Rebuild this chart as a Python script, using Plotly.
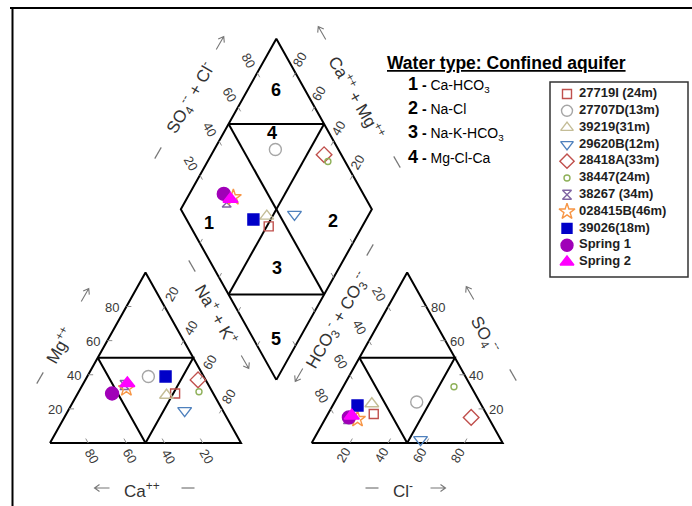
import math
import plotly.graph_objects as go

# ---------------- data (percent of meq) ----------------
samples = ["27719I (24m)", "27707D(13m)", "39219(31m)", "29620B(12m)", "28418A(33m)",
           "38447(24m)", "38267 (34m)", "028415B(46m)", "39026(18m)", "Spring 1", "Spring 2"]
ca   = [20, 29, 25, 20,  4,  7, 44, 44, 20, 53, 42]
mg   = [29, 39, 28, 19, 37, 30, 34, 32, 39, 29, 35]
nak  = [51, 32, 47, 61, 59, 63, 22, 24, 41, 18, 23]
hco3 = [59, 33, 57, 42,  9,  9, 74, 69, 65, 73, 71]
so4  = [17, 24, 23,  2, 15, 33, 14, 14, 22, 15, 16]
cl   = [24, 43, 20, 56, 76, 58, 12, 17, 13, 12, 13]

tick_values = [20, 40, 60, 80]
water_types = ["Ca-HCO<sub>3</sub>", "Na-Cl", "Na-K-HCO<sub>3</sub>", "Mg-Cl-Ca"]
axis_names = ["Mg<sup>++</sup>", "Ca<sup>++</sup>", "Na<sup>+</sup> + K<sup>+</sup>",
              "SO<sub>4</sub><sup>--</sup>", "Cl<sup>-</sup>",
              "HCO<sub>3</sub><sup>-</sup> + CO<sub>3</sub><sup>--</sup>",
              "SO<sub>4</sub><sup>--</sup> + Cl<sup>-</sup>", "Ca<sup>++</sup> + Mg<sup>++</sup>"]
region_labels = ["1", "2", "3", "4", "5", "6"]
# region label placement inside the diamond, as (Na+K %, SO4+Cl %)
region_pos = [(19, 11), (83, 76), (67.5, 33), (25, 70), (88, 12), (15, 85)]

# ---------------- styles ----------------
symbols = ["square-open", "circle-open", "triangle-up-open", "triangle-down-open", "diamond-open",
           "circle-open", "hourglass-open", "star-open", "square", "circle", "triangle-up"]
colors = ["#c0504d", "#a6a6a6", "#c4bd97", "#4f81bd", "#c0504d",
          "#8fb15a", "#8064a2", "#f79646", "#0000c8", "#a000b8", "#ff00ff"]
sizes = [9, 12, 12, 12, 12, 6, 9, 12, 11, 13, 13]
leg_sizes = [9, 11, 11, 11, 11, 6, 9, 12, 10, 12, 12]

FONT = "Liberation Sans, Arial, sans-serif"
W, H = 692, 506
GAP = 37.0
S60 = math.sqrt(3) / 2
KX, KY = 1.91, 1.97      # pixels per unit
OX, OY = 50.0, 443.0     # pixel of the Ca corner of the cation triangle


def cat_xy(a, m, n):
    t = a + m + n
    return 100 * (n + m / 2) / t, 100 * m / t * S60


def an_xy(h, s, c):
    t = h + s + c
    return 100 + GAP + 100 * (c + s / 2) / t, 100 * s / t * S60


def dia_xy(c, a):
    return 100 + GAP / 2 - 0.5 * (100 - c) + 0.5 * a, (GAP + (100 - c) + a) * S60


def pp(px, py):
    return px / W, 1 - py / H


fig = go.Figure()

# ---------------- outlines ----------------
ox, oy = [], []


def seg(pts):
    for p in pts:
        ox.append(p[0]); oy.append(p[1])
    ox.append(None); oy.append(None)


seg([cat_xy(100, 0, 0), cat_xy(0, 0, 100), cat_xy(0, 100, 0), cat_xy(100, 0, 0)])
seg([cat_xy(50, 50, 0), cat_xy(0, 50, 50), cat_xy(50, 0, 50), cat_xy(50, 50, 0)])
seg([an_xy(100, 0, 0), an_xy(0, 0, 100), an_xy(0, 100, 0), an_xy(100, 0, 0)])
seg([an_xy(50, 50, 0), an_xy(0, 50, 50), an_xy(50, 0, 50), an_xy(50, 50, 0)])
seg([dia_xy(100, 0), dia_xy(0, 0), dia_xy(0, 100), dia_xy(100, 100), dia_xy(100, 0)])
seg([dia_xy(0, 50), dia_xy(50, 100)])
seg([dia_xy(50, 0), dia_xy(100, 50)])
seg([dia_xy(0, 50), dia_xy(100, 50)])
seg([dia_xy(50, 0), dia_xy(50, 100)])

fig.add_trace(go.Scatter(x=ox, y=oy, mode="lines", line=dict(color="black", width=2),
                         hoverinfo="skip", showlegend=False))

# ---------------- ticks ----------------
edges = [
    (lambda v: cat_xy(100 - v, v, 0), (1, 0)),
    (lambda v: cat_xy(0, 100 - v, v), (-0.5, -S60)),
    (lambda v: cat_xy(v, 0, 100 - v), (-0.5, S60)),
    (lambda v: an_xy(100 - v, 0, v), (0.5, S60)),
    (lambda v: an_xy(v, 100 - v, 0), (0.5, -S60)),
    (lambda v: an_xy(0, v, 100 - v), (-1, 0)),
    (lambda v: dia_xy(0, v), (0.5, -S60)),
    (lambda v: dia_xy(100 - v, 100), (-0.5, -S60)),
    (lambda v: dia_xy(v, 0), (0.5, S60)),
    (lambda v: dia_xy(100, v), (-0.5, S60)),
]
tx, ty = [], []
for f, d in edges:
    for v in tick_values:
        x0, y0 = f(v)
        tx += [x0, x0 + 2.6 * d[0], None]
        ty += [y0, y0 + 2.6 * d[1], None]
fig.add_trace(go.Scatter(x=tx, y=ty, mode="lines", line=dict(color="#8c8c8c", width=1),
                         hoverinfo="skip", showlegend=False))

# ---------------- samples ----------------
for i, name in enumerate(samples):
    c1 = cat_xy(ca[i], mg[i], nak[i])
    a1 = an_xy(hco3[i], so4[i], cl[i])
    cpc = 100 * nak[i] / (ca[i] + mg[i] + nak[i])
    apc = 100 * (so4[i] + cl[i]) / (hco3[i] + so4[i] + cl[i])
    d1 = dia_xy(cpc, apc)
    fig.add_trace(go.Scatter(
        x=[c1[0], a1[0], d1[0]], y=[c1[1], a1[1], d1[1]], mode="markers", name=name,
        marker=dict(symbol=symbols[i], size=sizes[i], color=colors[i], opacity=1,
                    line=dict(color=colors[i], width=1.4)),
        showlegend=False))

# ---------------- tick labels ----------------
tick_groups = [
    (lambda v: cat_xy(100 - v, v, 0), (-14.5, 1), 0),
    (lambda v: cat_xy(0, 100 - v, v), (7, -12), -60),
    (lambda v: cat_xy(v, 0, 100 - v), (4, 13), 60),
    (lambda v: an_xy(100 - v, 0, v), (-7, 12), -60),
    (lambda v: an_xy(v, 100 - v, 0), (-9.5, -13), 60),
    (lambda v: an_xy(0, v, 100 - v), (12, 1), 0),
    (lambda v: dia_xy(0, v), (-9, -12), 60),
    (lambda v: dia_xy(100 - v, 100), (4.5, -13), -60),
]
annotations = []
for f, (dx, dy), ang in tick_groups:
    for v in tick_values:
        x0, y0 = f(v)
        annotations.append(dict(x=x0, y=y0, xref="x", yref="y", text=str(v), showarrow=False,
                                xanchor="center", yanchor="middle",
                                xshift=dx, yshift=-dy, textangle=ang,
                                font=dict(family=FONT, size=13, color="#3a3a3a")))

# ---------------- axis names ----------------
GRAY = "#777777"
axis_layout = [(59, 345, -60), (142, 490, 0), (217, 314, 60), (485, 334, 60),
               (403, 490, 0), (337, 320, -60), (190, 98, -60), (357, 97, 60)]
for t, (px, py, ang) in zip(axis_names, axis_layout):
    x, y = pp(px, py)
    annotations.append(dict(x=x, y=y, xref="paper", yref="paper", text=t, showarrow=False,
                            xanchor="center", yanchor="middle",
                            textangle=ang, font=dict(family=FONT, size=17, color="#333333")))

shapes = []


def ppath(points_list):
    parts = []
    for pts in points_list:
        for j, (px, py) in enumerate(pts):
            x, y = pp(px, py)
            parts.append(("M" if j == 0 else "L") + " %.5f %.5f" % (x, y))
    return " ".join(parts)


# direction arrows (center pixel, screen direction)
arrows = [
    (85, 295, (0.5, -S60)),
    (102, 488, (-1, 0)),
    (245, 362, (0.5, S60)),
    (470, 293, (-0.5, -S60)),
    (438, 488, (1, 0)),
    (299, 375, (-0.5, S60)),
    (220, 43, (0.5, -S60)),
    (322, 33, (-0.5, -S60)),
]
AL, HL, HW = 15, 5, 3.5
for cx, cy, (dx, dy) in arrows:
    tip = (cx + dx * AL / 2, cy + dy * AL / 2)
    tail = (cx - dx * AL / 2, cy - dy * AL / 2)
    nx, ny = -dy, dx
    w1 = (tip[0] - dx * HL + nx * HW, tip[1] - dy * HL + ny * HW)
    w2 = (tip[0] - dx * HL - nx * HW, tip[1] - dy * HL - ny * HW)
    shapes.append(dict(type="path", xref="paper", yref="paper",
                       path=ppath([[tail, tip], [w1, tip, w2]]),
                       line=dict(color=GRAY, width=1.1)))

# dashes next to axis names (center pixel, screen direction)
dashes = [
    (40, 378, (0.5, -S60)),
    (188, 488, (1, 0)),
    (192, 266, (0.5, S60)),
    (513, 375, (0.5, S60)),
    (372, 488, (1, 0)),
    (370, 250, (0.5, -S60)),
    (158, 153, (0.5, -S60)),
    (397, 162, (0.5, S60)),
]
DL = 13
for cx, cy, (dx, dy) in dashes:
    shapes.append(dict(type="path", xref="paper", yref="paper",
                       path=ppath([[(cx - dx * DL / 2, cy - dy * DL / 2),
                                    (cx + dx * DL / 2, cy + dy * DL / 2)]]),
                       line=dict(color=GRAY, width=1.2)))

# ---------------- region numbers ----------------
for lab, (c, a) in zip(region_labels, region_pos):
    x0, y0 = dia_xy(c, a)
    annotations.append(dict(x=x0, y=y0, xref="x", yref="y", text="<b>%s</b>" % lab,
                            xanchor="center", yanchor="middle",
                            showarrow=False, font=dict(family=FONT, size=18, color="black")))

# ---------------- water type text ----------------
x, y = pp(506, 63)
annotations.append(dict(x=x, y=y, xref="paper", yref="paper", xanchor="center", yanchor="middle",
                        text="<b><u>Water type: Confined aquifer</u></b>", showarrow=False,
                        font=dict(family=FONT, size=17.5, color="black")))
for k, wt in enumerate(water_types):
    x, y = pp(406, 84 + 24.3 * k)
    annotations.append(dict(x=x, y=y, xref="paper", yref="paper", xanchor="left", yanchor="middle",
                            text="<b><span style='font-size:18px'>%d</span> -</b> %s" % (k + 1, wt),
                            showarrow=False, font=dict(family=FONT, size=14, color="black")))

# ---------------- legend (own axes) ----------------
LX0, LX1, LY0, LY1 = 550, 688, 82, 277
leg_rows = list(range(len(samples)))
fig.add_trace(go.Scatter(
    x=[17] * len(samples), y=[12 + 16.8 * r for r in leg_rows], mode="markers",
    marker=dict(symbol=symbols, size=leg_sizes, color=colors, opacity=1,
                line=dict(color=colors, width=1.4)),
    xaxis="x2", yaxis="y2", hoverinfo="skip", showlegend=False))
fig.add_trace(go.Scatter(
    x=[29] * len(samples), y=[12 + 16.8 * r for r in leg_rows], mode="text",
    text=["<b>%s</b>" % s for s in samples], textposition="middle right",
    textfont=dict(family=FONT, size=13, color="#1e1e1e"),
    xaxis="x2", yaxis="y2", hoverinfo="skip", showlegend=False))

x0, y0 = pp(LX0, LY1)
x1, y1 = pp(LX1, LY0)
shapes.append(dict(type="rect", xref="paper", yref="paper", x0=x0, y0=y0, x1=x1, y1=y1,
                   line=dict(color="#333333", width=1.5)))
# outer frame
a0 = pp(10, 8); a1 = pp(692, 8)
shapes.append(dict(type="line", xref="paper", yref="paper", x0=a0[0], y0=a0[1], x1=a1[0], y1=a1[1],
                   line=dict(color="black", width=2)))
b0 = pp(12.5, 8); b1 = pp(12.5, 506)
shapes.append(dict(type="line", xref="paper", yref="paper", x0=b0[0], y0=b0[1], x1=b1[0], y1=b1[1],
                   line=dict(color="black", width=2)))

fig.update_layout(
    width=W, height=H, margin=dict(l=0, r=0, t=0, b=0),
    paper_bgcolor="white", plot_bgcolor="white",
    xaxis=dict(range=[-OX / KX, (W - OX) / KX], visible=False, domain=[0, 1], fixedrange=True),
    yaxis=dict(range=[(OY - H) / KY, OY / KY], visible=False, domain=[0, 1], fixedrange=True),
    xaxis2=dict(domain=[LX0 / W, LX1 / W], range=[0, LX1 - LX0], visible=False, anchor="y2"),
    yaxis2=dict(domain=[1 - LY1 / H, 1 - LY0 / H], range=[LY1 - LY0, 0], visible=False, anchor="x2"),
    annotations=annotations, shapes=shapes, showlegend=False,
    font=dict(family=FONT),
)

fig.write_html("out.html", config={"displayModeBar": False},
               post_script="document.body.style.margin='0';document.body.style.overflow='hidden';")
